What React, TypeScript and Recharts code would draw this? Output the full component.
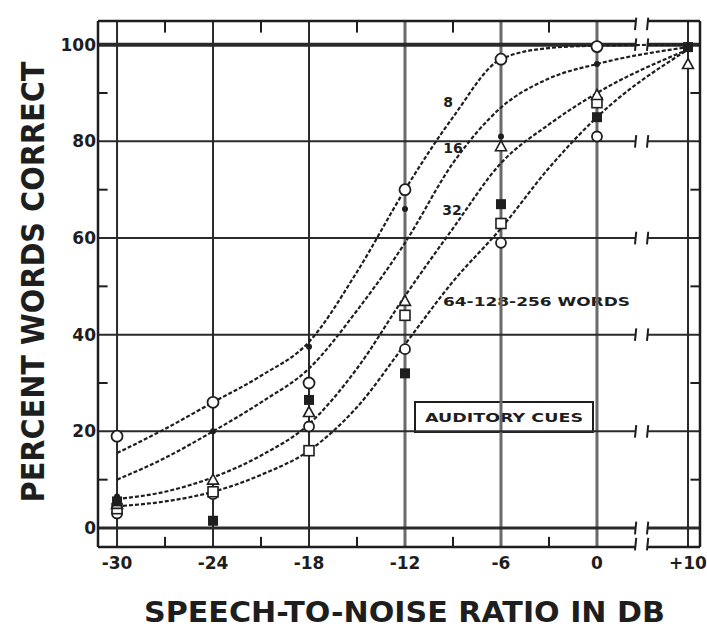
import React from "react";
import {
  ComposedChart,
  Line,
  Scatter,
  XAxis,
  YAxis,
  ReferenceLine,
  Customized,
} from "recharts";

// ---------- axis data ----------
const dbTicks = [-30, -24, -18, -12, -6, 0, 10];
const dbTickLabels = ["-30", "-24", "-18", "-12", "-6", "0", "+10"];
const pctTicks = [0, 20, 40, 60, 80, 100];
const minorDb = [-27, -21, -15, -9, -3];
const minorPct = [10, 30, 50, 70, 90];

// ---------- fitted curves (percent correct at each S/N in dB) ----------
const curveDb = [-30, -27, -24, -21, -18, -15, -12, -9, -6, -3, 0, 10];
const curve8 = [15.5, 20.5, 26, 31.5, 38.5, 53, 70, 85, 97, 99.3, 99.8, 100];
const curve16 = [10, 14.5, 20, 26, 33, 45, 59, 75.5, 87, 93, 96, 99.5];
const curve32 = [6, 7.5, 10.5, 15, 21.5, 33, 48, 62, 75.5, 83.5, 90, 99];
const curve64 = [4.5, 5.5, 7.5, 11, 16, 25, 38, 51, 62, 74.5, 85, 99];

// ---------- observed points ----------
const ptsOpenCircleDb = [-30, -24, -18, -12, -6, 0];
const ptsOpenCircle = [19, 26, 30, 70, 97, 99.6];
const ptsDotDb = [-30, -24, -18, -12, -6, 0];
const ptsDot = [6.5, 20, 37.5, 66, 81, 96];
const ptsTriangleDb = [-30, -24, -18, -12, -6, 0, 10];
const ptsTriangle = [5, 10, 24, 47, 79, 89.6, 96];
const ptsSquareDb = [-30, -24, -18, -12, -6, 0];
const ptsSquare = [4, 7.5, 16, 44, 63, 88];
const ptsFilledSqDb = [-30, -24, -18, -12, -6, 0, 10];
const ptsFilledSq = [5.5, 1.5, 26.5, 32, 67, 85, 99.5];
const ptsSmallCircleDb = [-30, -24, -18, -12, -6, 0];
const ptsSmallCircle = [3, 7, 21, 37, 59, 81];

// broken axis: values above 0 dB are compressed past the break
const BREAK_FACTOR = 0.569;
const pos = (db: number) => (db <= 0 ? db : db * BREAK_FACTOR);
const X_MIN = -31.19;
const X_MAX = 6.44;
const Y_MIN = -3.93;
const Y_MAX = 104.9;
const BREAK_L = 2.375;
const BREAK_R = 3.125;

const toSeries = (xs: number[], ys: number[]) =>
  xs.map((d, i) => ({ x: pos(d), y: ys[i] }));

const INK = "#1e1e1e";

const OpenCircle = (p: any) => (
  <circle cx={p.cx} cy={p.cy} r={5.5} fill="#fff" stroke={INK} strokeWidth={1.8} />
);
const SmallCircle = (p: any) => (
  <circle cx={p.cx} cy={p.cy} r={5} fill="#fff" stroke={INK} strokeWidth={1.8} />
);
const Dot = (p: any) => <circle cx={p.cx} cy={p.cy} r={3} fill={INK} />;
const Tri = (p: any) => (
  <polygon
    points={`${p.cx},${p.cy - 5.5} ${p.cx - 5.5},${p.cy + 4.5} ${p.cx + 5.5},${p.cy + 4.5}`}
    fill="#fff"
    stroke={INK}
    strokeWidth={1.6}
  />
);
const Sq = (p: any) => (
  <rect x={p.cx - 5} y={p.cy - 5} width={10} height={10} fill="#fff" stroke={INK} strokeWidth={1.6} />
);
const FilledSq = (p: any) => (
  <rect x={p.cx - 5} y={p.cy - 5} width={10} height={10} fill={INK} />
);

const FONT = "'DejaVu Sans', sans-serif";
const FONT_COND = "'DejaVu Sans Condensed', 'DejaVu Sans', sans-serif";

const Annotations = () => (
  <g fontFamily={FONT} fill={INK}>
    <text
      transform="translate(44,282) rotate(-90)"
      x={0}
      y={0}
      textAnchor="middle"
      fontSize={32}
      fontWeight="bold"
      fontFamily={FONT_COND}
    >
      PERCENT WORDS CORRECT
    </text>
    <text
      x={404.5}
      y={622}
      textAnchor="middle"
      fontSize={29}
      fontWeight="bold"
      textLength={521}
      lengthAdjust="spacingAndGlyphs"
    >
      SPEECH-TO-NOISE RATIO IN DB
    </text>
    <text x={448} y={107} textAnchor="middle" fontSize={14} fontWeight="bold">8</text>
    <text x={453} y={153} textAnchor="middle" fontSize={14} fontWeight="bold">16</text>
    <text x={452} y={215} textAnchor="middle" fontSize={14} fontWeight="bold">32</text>
    <text
      x={443}
      y={306}
      fontSize={12}
      fontWeight="bold"
      textLength={187}
      lengthAdjust="spacingAndGlyphs"
    >
      64-128-256 WORDS
    </text>
    <rect x={415} y={402} width={178} height={30} fill="#fff" stroke={INK} strokeWidth={2} />
    <text
      x={425}
      y={422}
      fontSize={12}
      fontWeight="bold"
      textLength={158}
      lengthAdjust="spacingAndGlyphs"
    >
      AUDITORY CUES
    </text>
  </g>
);

export default function App() {
  const gridColor = "#2a2a2a";
  const hLines = pctTicks;
  return (
    <div style={{ position: "absolute", left: 0, top: 0, background: "#fff" }}>
      <ComposedChart
        width={707}
        height={630}
        margin={{ top: 21, right: 7, bottom: 0, left: 0 }}
      >
        <XAxis
          dataKey="x"
          type="number"
          domain={[X_MIN, X_MAX]}
          ticks={dbTicks.map(pos)}
          tickFormatter={(v: number) => {
            const i = dbTicks.map(pos).findIndex((t) => Math.abs(t - v) < 1e-6);
            return i >= 0 ? dbTickLabels[i] : "";
          }}
          allowDataOverflow
          axisLine={false}
          tickLine={false}
          tickSize={0}
          tickMargin={10}
          height={83}
          tick={{ fontSize: 17, fontWeight: "bold", fill: INK, fontFamily: FONT }}
        />
        <YAxis
          dataKey="y"
          type="number"
          domain={[Y_MIN, Y_MAX]}
          ticks={pctTicks}
          allowDataOverflow
          axisLine={false}
          tickLine={false}
          tickSize={0}
          tickMargin={2}
          width={98}
          tick={{ fontSize: 17, fontWeight: "bold", fill: INK, fontFamily: FONT }}
        />

        {/* vertical grid lines */}
        {dbTicks.map((d, i) => (
          <ReferenceLine
            key={"v" + d}
            segment={[
              { x: pos(d), y: Y_MIN },
              { x: pos(d), y: Y_MAX },
            ]}
            stroke={i >= 3 && i <= 5 ? "#6a6a6a" : gridColor}
            strokeWidth={i >= 3 && i <= 5 ? 3 : 2}
            ifOverflow="visible"
          />
        ))}

        {/* horizontal grid lines, broken between 0 and +10 dB */}
        {hLines.map((v) => (
          <ReferenceLine
            key={"hl" + v}
            segment={[
              { x: X_MIN, y: v },
              { x: BREAK_L, y: v },
            ]}
            stroke={gridColor}
            strokeWidth={v === 100 ? 4 : v === 0 ? 3 : 2}
            ifOverflow="visible"
          />
        ))}
        {hLines.map((v) => (
          <ReferenceLine
            key={"hr" + v}
            segment={[
              { x: BREAK_R, y: v },
              { x: X_MAX, y: v },
            ]}
            stroke={gridColor}
            strokeWidth={v === 100 ? 4 : v === 0 ? 3 : 2}
            ifOverflow="visible"
          />
        ))}

        {/* frame */}
        <ReferenceLine segment={[{ x: X_MIN, y: Y_MIN }, { x: X_MIN, y: Y_MAX }]} stroke={INK} strokeWidth={2.5} ifOverflow="visible" />
        <ReferenceLine segment={[{ x: X_MAX, y: Y_MIN }, { x: X_MAX, y: Y_MAX }]} stroke={INK} strokeWidth={2.5} ifOverflow="visible" />
        {[Y_MIN, Y_MAX].map((v) => (
          <ReferenceLine key={"fl" + v} segment={[{ x: X_MIN, y: v }, { x: BREAK_L, y: v }]} stroke={INK} strokeWidth={2.5} ifOverflow="visible" />
        ))}
        {[Y_MIN, Y_MAX].map((v) => (
          <ReferenceLine key={"fr" + v} segment={[{ x: BREAK_R, y: v }, { x: X_MAX, y: v }]} stroke={INK} strokeWidth={2.5} ifOverflow="visible" />
        ))}

        {/* break marks */}
        {[...hLines, Y_MIN + 0.6, Y_MAX - 0.6].map((v) =>
          [BREAK_L, BREAK_R].map((b) => (
            <ReferenceLine
              key={"bk" + v + "_" + b}
              segment={[
                { x: b, y: v - 1.3 },
                { x: b + 0.08, y: v + 1.3 },
              ]}
              stroke={INK}
              strokeWidth={2}
              ifOverflow="visible"
            />
          ))
        )}

        {/* minor ticks */}
        {minorDb.map((d) => (
          <ReferenceLine key={"tt" + d} segment={[{ x: d, y: Y_MAX }, { x: d, y: Y_MAX - 2.4 }]} stroke={INK} strokeWidth={2} ifOverflow="visible" />
        ))}
        {minorDb.map((d) => (
          <ReferenceLine key={"tb" + d} segment={[{ x: d, y: Y_MIN }, { x: d, y: Y_MIN + 2.1 }]} stroke={INK} strokeWidth={2} ifOverflow="visible" />
        ))}
        {minorPct.map((v) => (
          <ReferenceLine key={"tl" + v} segment={[{ x: X_MIN, y: v }, { x: X_MIN + 0.6, y: v }]} stroke={INK} strokeWidth={2} ifOverflow="visible" />
        ))}
        {minorPct.map((v) => (
          <ReferenceLine key={"tr" + v} segment={[{ x: X_MAX, y: v }, { x: X_MAX - 0.6, y: v }]} stroke={INK} strokeWidth={2} ifOverflow="visible" />
        ))}

        {/* fitted curves */}
        {[curve8, curve16, curve32, curve64].map((c, i) => (
          <Line
            key={"c" + i}
            data={toSeries(curveDb, c)}
            dataKey="y"
            type="monotone"
            stroke={INK}
            strokeWidth={2.2}
            strokeDasharray="4 2"
            dot={false}
            activeDot={false}
            isAnimationActive={false}
          />
        ))}

        <Customized component={<Annotations />} />

        {/* observed points */}
        <Scatter data={toSeries(ptsOpenCircleDb, ptsOpenCircle)} dataKey="y" shape={OpenCircle} isAnimationActive={false} />
        <Scatter data={toSeries(ptsSmallCircleDb, ptsSmallCircle)} dataKey="y" shape={SmallCircle} isAnimationActive={false} />
        <Scatter data={toSeries(ptsSquareDb, ptsSquare)} dataKey="y" shape={Sq} isAnimationActive={false} />
        <Scatter data={toSeries(ptsTriangleDb, ptsTriangle)} dataKey="y" shape={Tri} isAnimationActive={false} />
        <Scatter data={toSeries(ptsDotDb, ptsDot)} dataKey="y" shape={Dot} isAnimationActive={false} />
        <Scatter data={toSeries(ptsFilledSqDb, ptsFilledSq)} dataKey="y" shape={FilledSq} isAnimationActive={false} />
      </ComposedChart>
    </div>
  );
}
